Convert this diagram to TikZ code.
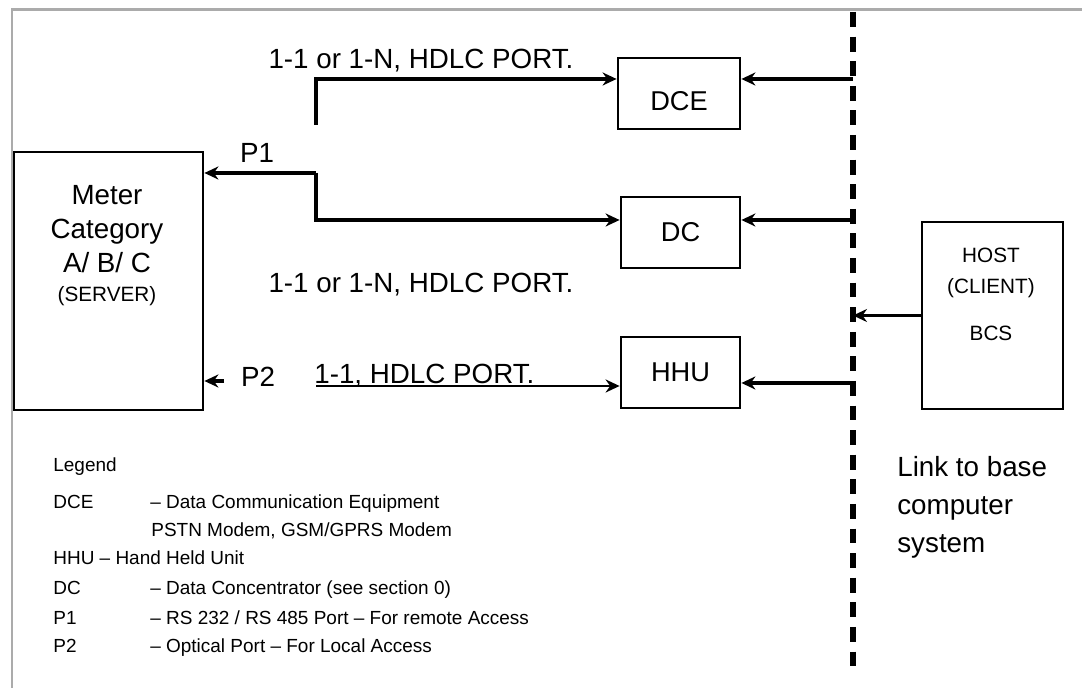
\documentclass[tikz,border=0pt]{standalone}
\usepackage{fontspec}
\setmainfont{Liberation Sans}
\usetikzlibrary{arrows.meta,positioning,calc}
\tikzset{
  box/.style={draw, rectangle, line width=1.6pt, align=center, font=\fontsize{15.5}{19}\selectfont, inner sep=0pt, fill=white},
  arr/.style={-{Stealth[length=2.8mm, width=2.6mm]}, line width=2.2pt},
  bus/.style={line width=2.9pt, dash pattern=on 8.5pt off 5.5pt},
  lbl/.style={font=\fontsize{15.8}{19}\selectfont, inner sep=0pt},
  slbl/.style={font=\fontsize{11.8}{17.6}\selectfont, inner sep=0pt},
  leg/.style={font=\fontsize{10.8}{13}\selectfont, inner sep=0pt, anchor=base west},
  frame/.style={draw=black!33, line width=1.7pt},
}
\begin{document}
\begin{tikzpicture}[x=0.02cm, y=-0.02cm]
\useasboundingbox (0,0) rectangle (1082,688);
\draw[frame] (12,688) -- (12,10) -- (1082,10);

% boxes
\node[box, minimum width=3.78cm, minimum height=5.16cm] (meter) at (108.5,281) {};
\node[box, minimum width=2.44cm, minimum height=1.42cm, text height=19pt, text depth=0pt] (dce) at (679,93.5) {DCE};
\node[box, minimum width=2.38cm, minimum height=1.42cm] (dc) at (680.5,232.5) {DC};
\node[box, minimum width=2.38cm, minimum height=1.42cm] (hhu) at (680.5,372.5) {HHU};
\node[box, minimum width=2.82cm, minimum height=3.74cm] (host) at (992.5,315.5) {};

\node[lbl, align=center, font=\fontsize{15.8}{19.5}\selectfont] (metertxt) at (107,229) {Meter\\Category\\A/ B/ C};
\node[slbl] (server) at (107,296) {(SERVER)};
\node[slbl, align=center] (hosttxt) at (991,273) {HOST\\(CLIENT)};
\node[slbl] (bcs) at (991,333) {BCS};

% link to base computer
\coordinate (bustop) at (853,12);
\coordinate (busbot) at (853,667);
\draw[bus] (bustop) -- (busbot);

% connectors
\coordinate (stub) at (316,125);
\coordinate (jn0) at (316,79);
\coordinate (jn1) at (316,173);
\coordinate (jn2) at (316,220);
\coordinate (p2end) at (224,381);
\coordinate (hhustart) at (316,386);
\draw[arr] (stub) -- (jn0) -- (jn0 -| dce.west);
\draw[arr] (jn1) -- (jn1 -| meter.east);
\draw[arr] (jn1) -- (jn2) -- (jn2 -| dc.west);
\draw[arr] (p2end) -- (p2end -| meter.east);
\draw[arr, line width=1.6pt] (hhustart) -- (hhustart -| hhu.west);
\draw[arr] (853,79) -- (dce.east |- 0,79);
\draw[arr] (853,220) -- (dc.east |- 0,220);
\draw[arr] (853,383) -- (hhu.east |- 0,383);
\draw[arr] (host.west) -- (host.west -| bustop);

% port labels
\node[lbl] (hdlc1) at (421,61) {1-1 or 1-N, HDLC PORT.};
\node[lbl] (hdlc2) at (421,285) {1-1 or 1-N, HDLC PORT.};
\node[lbl] (p1) at (257,153) {P1};
\node[lbl] (p2) at (258,377) {P2};
\node[lbl, anchor=west] (hdlc3) at (314,376) {1-1, HDLC PORT.};

\node[lbl, anchor=north west, align=left, font=\fontsize{15.8}{21.5}\selectfont] (linktxt) at (897,456) {Link to base\\computer\\system};

% legend
\node[leg] (legend) at (53,472) {Legend};
\node[leg] (l1) at (53,509) {DCE};
\node[leg] (d1) at (150,509) {– Data Communication Equipment};
\node[leg] (d1b) at (151,537) {PSTN Modem, GSM/GPRS Modem};
\node[leg] (l2) at (53,565) {HHU – Hand Held Unit};
\node[leg] (l3) at (53,595) {DC};
\node[leg] (d3) at (150,595) {– Data Concentrator (see section 0)};
\node[leg] (l4) at (53,625) {P1};
\node[leg] (d4) at (150,625) {– RS 232 / RS 485 Port – For remote Access};
\node[leg] (l5) at (53,653) {P2};
\node[leg] (d5) at (150,653) {– Optical Port – For Local Access};
\end{tikzpicture}
\end{document}
